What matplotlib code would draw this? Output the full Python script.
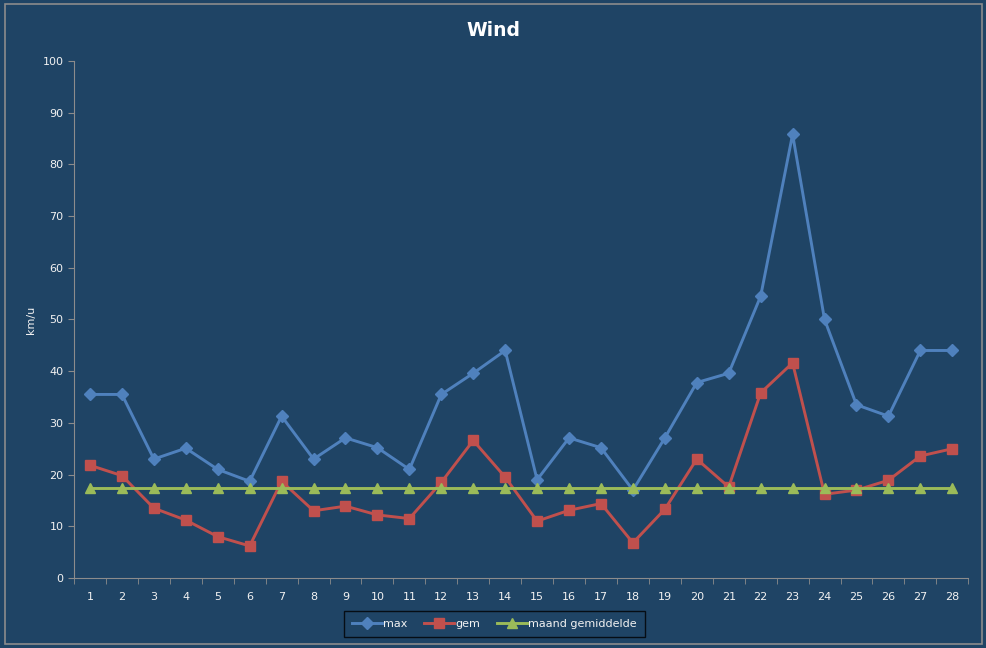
import matplotlib
matplotlib.use("Agg")
from matplotlib import pyplot as plt
from matplotlib.patches import Rectangle

days = list(range(1, 29))
wind_max = [35.5, 35.5, 23.0, 25.1, 21.0, 18.7, 31.3, 23.0, 27.1, 25.2,
            21.0, 35.5, 39.6, 44.0, 19.0, 27.1, 25.2, 17.0, 27.1, 37.8,
            39.6, 54.5, 85.8, 50.0, 33.5, 31.3, 44.0, 44.0]
wind_gem = [21.8, 19.8, 13.5, 11.2, 8.0, 6.2, 18.7, 13.0, 13.9, 12.2,
            11.5, 18.5, 26.6, 19.5, 11.0, 13.1, 14.4, 6.8, 13.3, 23.0,
            17.6, 35.8, 41.6, 16.2, 17.0, 18.9, 23.6, 25.0]
maand_gem = [17.4] * 28

BG = "#1F4465"
TXT = "#F2F2F2"
AXCOL = "#8C8C8C"

fig = plt.figure(figsize=(9.87, 6.48), dpi=100, facecolor=BG)
ax = fig.add_axes([0.075, 0.108, 0.906, 0.798])
ax.set_facecolor(BG)

ax.plot(days, wind_max, color="#4F81BD", lw=2.1, marker="D", ms=6.3,
        label="max")
ax.plot(days, wind_gem, color="#C0504D", lw=2.1, marker="s", ms=6.8,
        label="gem")
ax.plot(days, maand_gem, color="#9BBB59", lw=2.1, marker="^", ms=7,
        label="maand gemiddelde")

ax.set_xlim(0.5, 28.5)
ax.set_ylim(0, 100)
ax.set_yticks(range(0, 101, 10))
ax.set_xticks(days)
ax.set_xticks([d + 0.5 for d in range(0, 29)], minor=True)
ax.tick_params(axis="x", which="major", length=0, pad=10, colors=TXT,
               labelsize=8)
ax.tick_params(axis="x", which="minor", length=4, color=AXCOL)
ax.tick_params(axis="y", length=4, color=AXCOL, colors=TXT, labelsize=8)
for s in ("left", "bottom"):
    ax.spines[s].set_color(AXCOL)
for s in ("top", "right"):
    ax.spines[s].set_visible(False)

ax.set_ylabel("km/u", color=TXT, fontsize=8)
ax.yaxis.set_label_coords(-0.0425, 0.5)
fig.text(0.4995, 0.953, "Wind", color="white", fontsize=13.5,
         fontweight="bold", ha="center", va="center")

leg = ax.legend(loc="center", bbox_to_anchor=(0.47, -0.089),
                ncol=3, frameon=True, fontsize=8, handlelength=2.7,
                columnspacing=1.45, handletextpad=0.15, borderpad=0.72)
leg.get_frame().set_facecolor(BG)
leg.get_frame().set_edgecolor("black")
leg.get_frame().set_linewidth(1.0)
leg.get_frame().set_boxstyle("square", pad=0)
for t in leg.get_texts():
    t.set_color(TXT)

fig.patches.append(Rectangle((0.005, 0.006), 0.99, 0.988,
                             transform=fig.transFigure, fill=False,
                             edgecolor="#8C8C8C", lw=1.2))

fig.savefig("out.png", dpi=100, facecolor=BG)
